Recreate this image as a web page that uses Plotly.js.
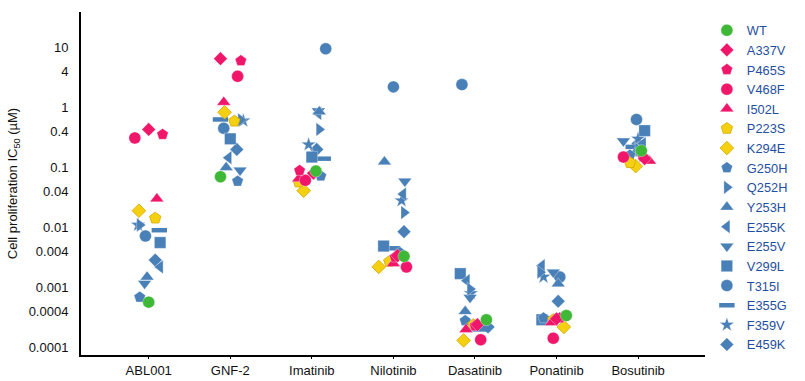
<!DOCTYPE html>
<html><head><meta charset="utf-8">
<script src="https://cdn.plot.ly/plotly-3.0.1.min.js"></script>
<style>html,body{margin:0;padding:0;background:#fff}#chart{width:805px;height:381px}</style>
</head><body><div id="chart"></div>
<script>
// Categories (drugs) and y tick labels
const drugs = ['ABL001','GNF-2','Imatinib','Nilotinib','Dasatinib','Ponatinib','Bosutinib'];
const yTickVals = [10,4,1,0.4,0.1,0.04,0.01,0.004,0.001,0.0004,0.0001];
const yTickText = ['10','4','1','0.4','0.1','0.04','0.01','0.004','0.001','0.0004','0.0001'];

// IC50 values (µM) per mutant, one per drug; jitter = horizontal offset within category
const ic50_WT    = [0.00057, 0.07, 0.087, 0.0033, 0.00029, 0.00034, 0.19];
const jitter_WT  = [0, -0.12, 0.05, 0.13, 0.14, 0.12, 0.04];
const ic50_A337V = [0.43, 6.5, 0.08, 0.0034, 0.00024, 0.0003, 0.14];
const jitter_A337V = [0, -0.12, 0.02, 0.05, 0.03, 0, 0.08];
const ic50_P465S = [0.355, 6.0, 0.089, 0.0032, 0.00023, 0.00031, 0.15];
const jitter_P465S = [0.17, 0.13, -0.15, 0.02, 0, 0.04, 0.06];
const ic50_V468F = [0.31, 3.3, 0.061, 0.0022, 0.000135, 0.000143, 0.149];
const jitter_V468F = [-0.17, 0.09, -0.08, 0.16, 0.07, -0.04, -0.18];
const ic50_I502L = [0.03, 1.22, 0.065, 0.0025, 0.0002, 0.00026, 0.128];
const jitter_I502L = [0.1, -0.08, -0.16, 0, -0.11, -0.06, 0.14];
const ic50_P223S = [0.0143, 0.59, 0.057, 0.0027, 0.00024, 0.00029, 0.12];
const jitter_P223S = [0.08, 0.05, -0.16, -0.05, -0.02, -0.04, -0.1];
const ic50_K294E = [0.019, 0.83, 0.041, 0.0022, 0.000131, 0.00022, 0.105];
const jitter_K294E = [-0.12, -0.07, -0.1, -0.18, -0.14, 0.09, -0.03];
const ic50_G250H = [0.00069, 0.059, 0.072, 0.0038, 0.00028, 0.00031, 0.16];
const jitter_G250H = [-0.11, 0.09, 0.11, 0.08, -0.12, -0.16, -0.1];
const ic50_Q252H = [0.011, 0.62, 0.43, 0.0177, 0.00094, 0.0018, 0.2];
const jitter_Q252H = [-0.11, 0.13, 0.09, 0.13, -0.06, -0.2, 0];
const ic50_Y253H = [0.0015, 0.10, 0.85, 0.124, 0.0004, 0.00115, 0.17];
const jitter_Y253H = [-0.02, -0.05, 0.09, -0.11, -0.12, 0.02, -0.04];
const ic50_E255K = [0.0022, 0.145, 0.8, 0.036, 0.0013, 0.0023, 0.25];
const jitter_E255K = [0.14, -0.02, 0.08, 0.12, -0.1, -0.18, 0.06];
const ic50_E255V = [0.00117, 0.09, 0.87, 0.059, 0.00068, 0.0018, 0.275];
const jitter_E255V = [-0.05, 0.12, 0.08, 0.14, -0.06, -0.04, -0.18];
const ic50_V299L = [0.0056, 0.3, 0.149, 0.0049, 0.0017, 0.00029, 0.41];
const jitter_V299L = [0.14, 0, 0, -0.12, -0.18, -0.18, 0.08];
const ic50_T315I = [0.0072, 0.45, 9.5, 2.2, 2.4, 0.0015, 0.63];
const jitter_T315I = [-0.04, -0.08, 0.17, 0, -0.16, 0.04, -0.02];
const ic50_E355G = [0.009, 0.63, 0.14, 0.0045, 0.0002, 0.0003, 0.22];
const jitter_E355G = [0.13, -0.12, 0.14, -0.01, 0.06, -0.08, -0.06];
const ic50_F359V = [0.011, 0.6, 0.24, 0.028, 0.0008, 0.0015, 0.3];
const jitter_F359V = [-0.13, 0.16, -0.04, 0.1, -0.05, -0.16, 0];
const ic50_E459K = [0.00286, 0.2, 0.2, 0.0085, 0.00022, 0.00059, 0.25];
const jitter_E459K = [0.08, 0.08, 0.06, 0.13, 0.16, 0.02, 0];

// Styles
const GREEN = '#3fb838', PINK = '#f0176a', YELLOW = '#f5d010', BLUE = '#4a80b8';
const series = [
  ['WT', ic50_WT, jitter_WT, 'circle', GREEN],
  ['A337V', ic50_A337V, jitter_A337V, 'diamond', PINK],
  ['P465S', ic50_P465S, jitter_P465S, 'pentagon', PINK],
  ['V468F', ic50_V468F, jitter_V468F, 'circle', PINK],
  ['I502L', ic50_I502L, jitter_I502L, 'triangle-up', PINK],
  ['P223S', ic50_P223S, jitter_P223S, 'pentagon', YELLOW],
  ['K294E', ic50_K294E, jitter_K294E, 'diamond', YELLOW],
  ['G250H', ic50_G250H, jitter_G250H, 'pentagon', BLUE],
  ['Q252H', ic50_Q252H, jitter_Q252H, 'triangle-right', BLUE],
  ['Y253H', ic50_Y253H, jitter_Y253H, 'triangle-up', BLUE],
  ['E255K', ic50_E255K, jitter_E255K, 'triangle-left', BLUE],
  ['E255V', ic50_E255V, jitter_E255V, 'triangle-down', BLUE],
  ['V299L', ic50_V299L, jitter_V299L, 'square', BLUE],
  ['T315I', ic50_T315I, jitter_T315I, 'circle', BLUE],
  ['E355G', ic50_E355G, jitter_E355G, 'line-ew', BLUE],
  ['F359V', ic50_F359V, jitter_F359V, 'star', BLUE],
  ['E459K', ic50_E459K, jitter_E459K, 'diamond', BLUE]
];
const sizes = {'circle':12,'diamond':10.5,'pentagon':12,'triangle-up':12,'triangle-down':12,
  'triangle-left':12,'triangle-right':12,'square':11.5,'star':11,'line-ew':11};

const traces = series.map((s, i) => {
  const [name, vals, jit, sym, col] = s;
  let line;
  if (sym === 'line-ew') line = {color: col, width: 4.5};
  else if (col === YELLOW) line = {color: '#d6a800', width: 0.8};
  else line = {color: 'rgba(255,255,255,0.55)', width: 0.6};
  return {
    type: 'scatter', mode: 'markers', name: name,
    x: vals.map((v, k) => k + jit[k]), y: vals,
    marker: {symbol: sym, size: sizes[sym], color: col, line: line},
    legendrank: i + 1, hoverinfo: 'name+y'
  };
});
// draw blue first, then yellow, pink, green on top
const order = traces.slice().reverse();

const layout = {
  width: 805, height: 381,
  margin: {l: 81, r: 87, t: 12, b: 26},
  paper_bgcolor: '#fff', plot_bgcolor: '#fff',
  font: {family: 'Liberation Sans, Arial, Helvetica, sans-serif', size: 13, color: '#111'},
  showlegend: true,
  legend: {x: 1.003, xanchor: 'left', y: 0.99, yanchor: 'top', bgcolor: 'rgba(0,0,0,0)',
           font: {size: 12.8, color: '#1f4fa0'}, traceorder: 'normal'},
  xaxis: {
    range: [-0.83, 6.82], tickmode: 'array', tickvals: drugs.map((d, i) => i), ticktext: drugs,
    showgrid: false, zeroline: false, showline: true, linecolor: '#000', linewidth: 2,
    ticks: 'outside', ticklen: 2, tickwidth: 1, tickcolor: '#000',
    tickfont: {size: 13, color: '#111'}
  },
  yaxis: {
    type: 'log', range: [-4.125, 1.59], tickmode: 'array', tickvals: yTickVals, ticktext: yTickText,
    showgrid: false, zeroline: false, showline: true, linecolor: '#000', linewidth: 2,
    ticks: '', ticklabelstandoff: 8, tickfont: {size: 13, color: '#111'},
    title: {text: 'Cell proliferation IC<sub>50</sub> (µM)', font: {size: 13, color: '#111'}, standoff: 8}
  }
};
Plotly.newPlot('chart', order, layout, {displayModeBar: false, staticPlot: true});
</script></body></html>
